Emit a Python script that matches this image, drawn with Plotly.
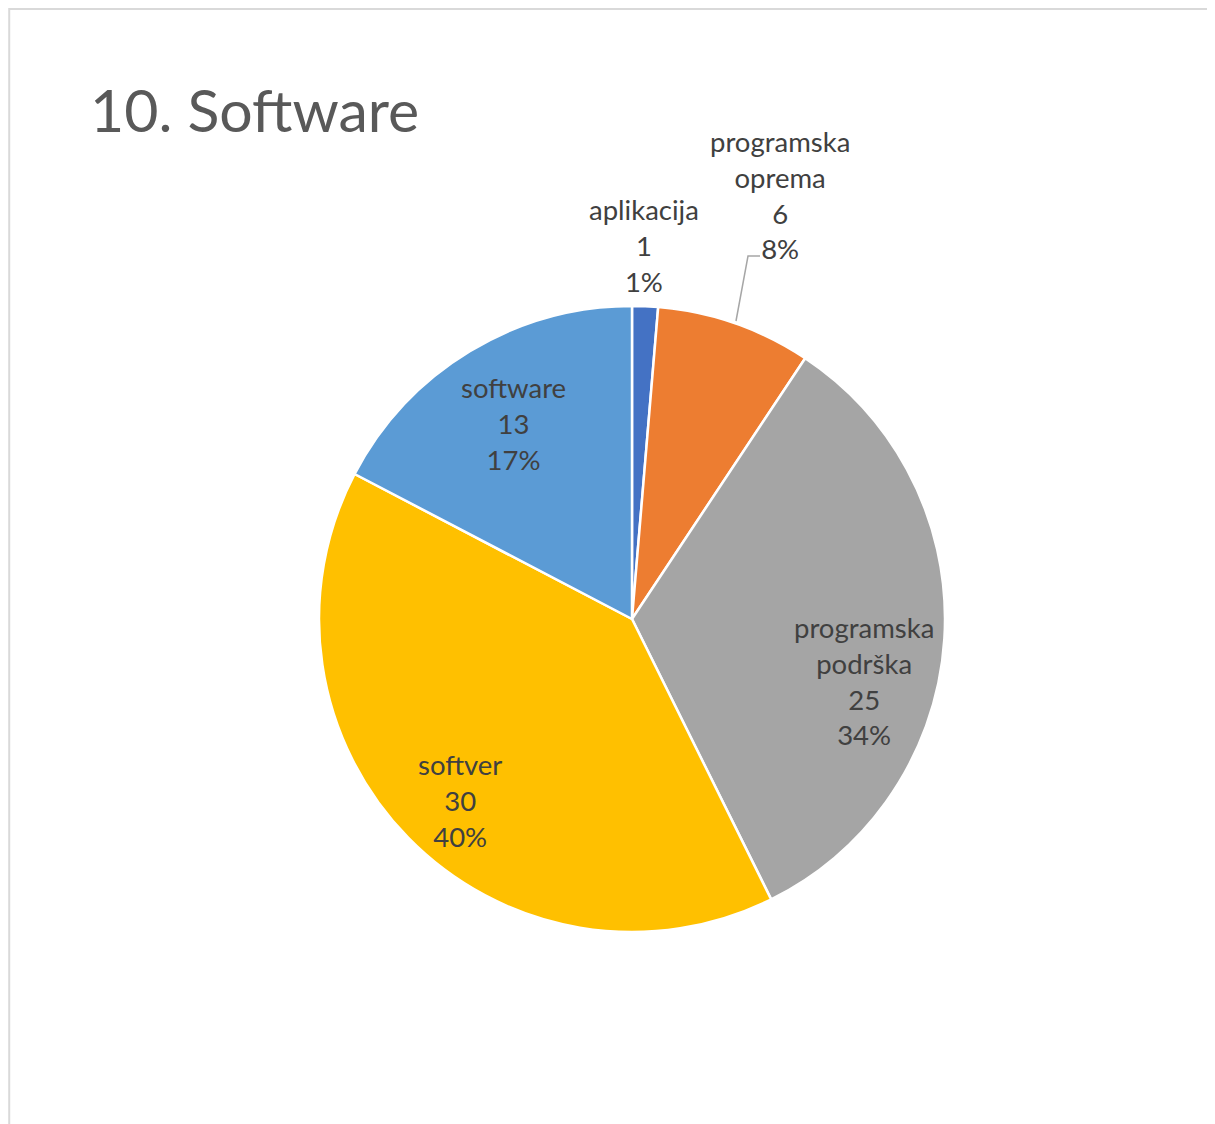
import plotly.graph_objects as go

# ---- data ----
labels = ["aplikacija", "programska oprema", "programska podrška", "softver", "software"]
values = [1, 6, 25, 30, 13]
percents = [1, 8, 34, 40, 17]  # as shown on the chart
label_lines = [["aplikacija"], ["programska", "oprema"], ["programska", "podrška"], ["softver"], ["software"]]
colors = ["#4472C4", "#ED7D31", "#A5A5A5", "#FFC000", "#5B9BD5"]
title_text = "10. Software"

W, H = 1215, 1124
OFF = 8  # page body margin offset

def px(x, y):
    return (x - OFF) / W, 1 - (y - OFF) / H

# pie geometry (screen pixels)
cx, cy, r = 632, 619, 313
dx0, dy1 = px(cx - r, cy - r)
dx1, dy0 = px(cx + r, cy + r)

fig = go.Figure()
fig.add_trace(go.Pie(
    labels=labels, values=values, sort=False, direction="clockwise", rotation=0,
    marker=dict(colors=colors, line=dict(color="white", width=2.5)),
    textinfo="none", hoverinfo="label+value+percent", showlegend=False,
    domain=dict(x=[dx0, dx1], y=[dy0, dy1]),
))

# label centre positions (screen pixels) - styling only
label_pos = [(644, 245), (780, 195), (864, 681), (460, 800), (513, 423)]

annotations = []
for i, lab in enumerate(labels):
    text = "<br>".join(label_lines[i] + [str(values[i]), f"{percents[i]}%"])
    x, y = px(*label_pos[i])
    annotations.append(dict(
        text=text, x=x, y=y, xref="paper", yref="paper", showarrow=False,
        xanchor="center", yanchor="middle", align="center",
        font=dict(family="Lato, 'Open Sans', sans-serif", size=27.5, color="#404040"),
    ))

tx, ty = px(88, 110)
annotations.append(dict(
    text=title_text, x=tx, y=ty, xref="paper", yref="paper", showarrow=False,
    xanchor="left", yanchor="middle",
    font=dict(family="Lato, 'Open Sans', sans-serif", size=59, color="#595959"),
))

shapes = [
    # chart frame
    dict(type="rect", xref="paper", yref="paper", x0=0.001, y0=0.999, x1=1.02, y1=-0.02,
         line=dict(color="#D9D9D9", width=2), fillcolor="rgba(0,0,0,0)", layer="below"),
]
# leader line for "programska oprema"
p1, p2, p3 = px(736, 321), px(748, 256), px(760, 256)
shapes.append(dict(type="path", xref="paper", yref="paper",
                   path=f"M {p1[0]} {p1[1]} L {p2[0]} {p2[1]} L {p3[0]} {p3[1]}",
                   line=dict(color="#A6A6A6", width=1.5)))

fig.update_layout(
    width=W, height=H, margin=dict(l=0, r=0, t=0, b=0),
    paper_bgcolor="white", plot_bgcolor="white",
    annotations=annotations, shapes=shapes,
)

fig.write_html("out.html")
